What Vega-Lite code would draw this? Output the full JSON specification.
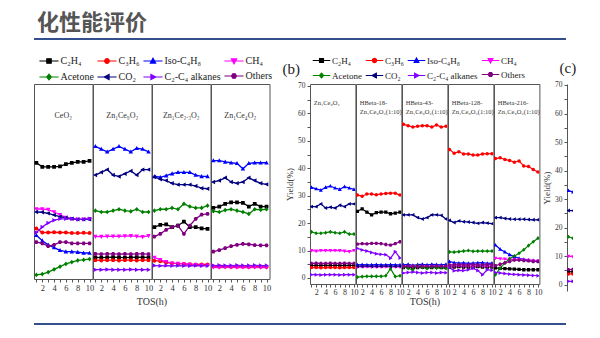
{
"$schema": "https://vega.github.io/schema/vega-lite/v6.json",
"padding": {"left": 33, "top": 12, "right": 0, "bottom": 0},
"background": "white",
"config": {
 "font": "Liberation Serif",
 "view": {"stroke": "#555555", "strokeWidth": 1},
 "axis": {"labelFont": "Liberation Serif", "titleFont": "Liberation Serif", "labelColor": "#333333", "titleColor": "#333333", "tickColor": "#555555", "domainColor": "#555555", "grid": false, "labelFontSize": 8, "titleFontWeight": "normal", "tickSize": 3},
 "legend": {"gridAlign": "none"},
 "title": {"font": "Liberation Serif", "fontWeight": "normal", "color": "#222222"}
},
"datasets": {
"a": [
{"c":"a1","s":"C₂H₄","t":1,"v":42.5},{"c":"a1","s":"C₂H₄","t":2,"v":41},{"c":"a1","s":"C₂H₄","t":3,"v":41},{"c":"a1","s":"C₂H₄","t":4,"v":41},{"c":"a1","s":"C₂H₄","t":5,"v":41.2},{"c":"a1","s":"C₂H₄","t":6,"v":42},{"c":"a1","s":"C₂H₄","t":7,"v":42.5},{"c":"a1","s":"C₂H₄","t":8,"v":42.8},{"c":"a1","s":"C₂H₄","t":9,"v":42.8},{"c":"a1","s":"C₂H₄","t":10,"v":43.2},
{"c":"a1","s":"C₃H₆","t":1,"v":18.5},{"c":"a1","s":"C₃H₆","t":2,"v":17},{"c":"a1","s":"C₃H₆","t":3,"v":17},{"c":"a1","s":"C₃H₆","t":4,"v":17.1},{"c":"a1","s":"C₃H₆","t":5,"v":17},{"c":"a1","s":"C₃H₆","t":6,"v":17},{"c":"a1","s":"C₃H₆","t":7,"v":16.8},{"c":"a1","s":"C₃H₆","t":8,"v":16.8},{"c":"a1","s":"C₃H₆","t":9,"v":16.9},{"c":"a1","s":"C₃H₆","t":10,"v":16.8},
{"c":"a1","s":"Iso-C₄H₈","t":1,"v":16},{"c":"a1","s":"Iso-C₄H₈","t":2,"v":14},{"c":"a1","s":"Iso-C₄H₈","t":3,"v":12.5},{"c":"a1","s":"Iso-C₄H₈","t":4,"v":11.5},{"c":"a1","s":"Iso-C₄H₈","t":5,"v":10.5},{"c":"a1","s":"Iso-C₄H₈","t":6,"v":10},{"c":"a1","s":"Iso-C₄H₈","t":7,"v":10},{"c":"a1","s":"Iso-C₄H₈","t":8,"v":9.8},{"c":"a1","s":"Iso-C₄H₈","t":9,"v":9.5},{"c":"a1","s":"Iso-C₄H₈","t":10,"v":9.5},
{"c":"a1","s":"CH₄","t":1,"v":25.6},{"c":"a1","s":"CH₄","t":2,"v":25.6},{"c":"a1","s":"CH₄","t":3,"v":25.4},{"c":"a1","s":"CH₄","t":4,"v":24.5},{"c":"a1","s":"CH₄","t":5,"v":23.5},{"c":"a1","s":"CH₄","t":6,"v":22.5},{"c":"a1","s":"CH₄","t":7,"v":22},{"c":"a1","s":"CH₄","t":8,"v":21.8},{"c":"a1","s":"CH₄","t":9,"v":21.8},{"c":"a1","s":"CH₄","t":10,"v":22},
{"c":"a1","s":"Acetone","t":1,"v":1.5},{"c":"a1","s":"Acetone","t":2,"v":1.8},{"c":"a1","s":"Acetone","t":3,"v":2.5},{"c":"a1","s":"Acetone","t":4,"v":3.5},{"c":"a1","s":"Acetone","t":5,"v":4.5},{"c":"a1","s":"Acetone","t":6,"v":5.5},{"c":"a1","s":"Acetone","t":7,"v":6.2},{"c":"a1","s":"Acetone","t":8,"v":6.8},{"c":"a1","s":"Acetone","t":9,"v":7},{"c":"a1","s":"Acetone","t":10,"v":7.3},
{"c":"a1","s":"CO₂","t":1,"v":24.5},{"c":"a1","s":"CO₂","t":2,"v":24.4},{"c":"a1","s":"CO₂","t":3,"v":24},{"c":"a1","s":"CO₂","t":4,"v":23.4},{"c":"a1","s":"CO₂","t":5,"v":22.8},{"c":"a1","s":"CO₂","t":6,"v":22.4},{"c":"a1","s":"CO₂","t":7,"v":22},{"c":"a1","s":"CO₂","t":8,"v":21.8},{"c":"a1","s":"CO₂","t":9,"v":21.8},{"c":"a1","s":"CO₂","t":10,"v":21.8},
{"c":"a1","s":"C₂-C₄ alkanes","t":1,"v":17},{"c":"a1","s":"C₂-C₄ alkanes","t":2,"v":19},{"c":"a1","s":"C₂-C₄ alkanes","t":3,"v":20.5},{"c":"a1","s":"C₂-C₄ alkanes","t":4,"v":21.5},{"c":"a1","s":"C₂-C₄ alkanes","t":5,"v":22},{"c":"a1","s":"C₂-C₄ alkanes","t":6,"v":22},{"c":"a1","s":"C₂-C₄ alkanes","t":7,"v":22},{"c":"a1","s":"C₂-C₄ alkanes","t":8,"v":21.8},{"c":"a1","s":"C₂-C₄ alkanes","t":9,"v":21.8},{"c":"a1","s":"C₂-C₄ alkanes","t":10,"v":22},
{"c":"a1","s":"Others","t":1,"v":13.5},{"c":"a1","s":"Others","t":2,"v":13},{"c":"a1","s":"Others","t":3,"v":12},{"c":"a1","s":"Others","t":4,"v":12.5},{"c":"a1","s":"Others","t":5,"v":13.5},{"c":"a1","s":"Others","t":6,"v":13.5},{"c":"a1","s":"Others","t":7,"v":13},{"c":"a1","s":"Others","t":8,"v":13},{"c":"a1","s":"Others","t":9,"v":13},{"c":"a1","s":"Others","t":10,"v":13},
{"c":"a2","s":"C₂H₄","t":1,"v":7.9},{"c":"a2","s":"C₂H₄","t":2,"v":7.8},{"c":"a2","s":"C₂H₄","t":3,"v":7.9},{"c":"a2","s":"C₂H₄","t":4,"v":8},{"c":"a2","s":"C₂H₄","t":5,"v":7.9},{"c":"a2","s":"C₂H₄","t":6,"v":7.8},{"c":"a2","s":"C₂H₄","t":7,"v":7.9},{"c":"a2","s":"C₂H₄","t":8,"v":8},{"c":"a2","s":"C₂H₄","t":9,"v":7.9},{"c":"a2","s":"C₂H₄","t":10,"v":7.9},
{"c":"a2","s":"C₃H₆","t":1,"v":6.9},{"c":"a2","s":"C₃H₆","t":2,"v":6.8},{"c":"a2","s":"C₃H₆","t":3,"v":6.9},{"c":"a2","s":"C₃H₆","t":4,"v":6.9},{"c":"a2","s":"C₃H₆","t":5,"v":6.8},{"c":"a2","s":"C₃H₆","t":6,"v":6.9},{"c":"a2","s":"C₃H₆","t":7,"v":6.9},{"c":"a2","s":"C₃H₆","t":8,"v":6.8},{"c":"a2","s":"C₃H₆","t":9,"v":6.9},{"c":"a2","s":"C₃H₆","t":10,"v":6.9},
{"c":"a2","s":"Iso-C₄H₈","t":1,"v":48.5},{"c":"a2","s":"Iso-C₄H₈","t":2,"v":47.5},{"c":"a2","s":"Iso-C₄H₈","t":3,"v":46.5},{"c":"a2","s":"Iso-C₄H₈","t":4,"v":47.5},{"c":"a2","s":"Iso-C₄H₈","t":5,"v":48.5},{"c":"a2","s":"Iso-C₄H₈","t":6,"v":47.5},{"c":"a2","s":"Iso-C₄H₈","t":7,"v":46.5},{"c":"a2","s":"Iso-C₄H₈","t":8,"v":47.8},{"c":"a2","s":"Iso-C₄H₈","t":9,"v":47.5},{"c":"a2","s":"Iso-C₄H₈","t":10,"v":46.5},
{"c":"a2","s":"CH₄","t":1,"v":15.5},{"c":"a2","s":"CH₄","t":2,"v":15.5},{"c":"a2","s":"CH₄","t":3,"v":15.6},{"c":"a2","s":"CH₄","t":4,"v":15.6},{"c":"a2","s":"CH₄","t":5,"v":15.6},{"c":"a2","s":"CH₄","t":6,"v":15.7},{"c":"a2","s":"CH₄","t":7,"v":15.8},{"c":"a2","s":"CH₄","t":8,"v":15.6},{"c":"a2","s":"CH₄","t":9,"v":15.4},{"c":"a2","s":"CH₄","t":10,"v":15.8},
{"c":"a2","s":"Acetone","t":1,"v":25},{"c":"a2","s":"Acetone","t":2,"v":24.5},{"c":"a2","s":"Acetone","t":3,"v":24.5},{"c":"a2","s":"Acetone","t":4,"v":25},{"c":"a2","s":"Acetone","t":5,"v":25.5},{"c":"a2","s":"Acetone","t":6,"v":25},{"c":"a2","s":"Acetone","t":7,"v":24.7},{"c":"a2","s":"Acetone","t":8,"v":25.5},{"c":"a2","s":"Acetone","t":9,"v":24.5},{"c":"a2","s":"Acetone","t":10,"v":24.5},
{"c":"a2","s":"CO₂","t":1,"v":38},{"c":"a2","s":"CO₂","t":2,"v":39},{"c":"a2","s":"CO₂","t":3,"v":40},{"c":"a2","s":"CO₂","t":4,"v":38},{"c":"a2","s":"CO₂","t":5,"v":37.5},{"c":"a2","s":"CO₂","t":6,"v":38.5},{"c":"a2","s":"CO₂","t":7,"v":39.5},{"c":"a2","s":"CO₂","t":8,"v":38},{"c":"a2","s":"CO₂","t":9,"v":40},{"c":"a2","s":"CO₂","t":10,"v":40},
{"c":"a2","s":"C₂-C₄ alkanes","t":1,"v":3.4},{"c":"a2","s":"C₂-C₄ alkanes","t":2,"v":3.4},{"c":"a2","s":"C₂-C₄ alkanes","t":3,"v":3.5},{"c":"a2","s":"C₂-C₄ alkanes","t":4,"v":3.4},{"c":"a2","s":"C₂-C₄ alkanes","t":5,"v":3.4},{"c":"a2","s":"C₂-C₄ alkanes","t":6,"v":3.4},{"c":"a2","s":"C₂-C₄ alkanes","t":7,"v":3.5},{"c":"a2","s":"C₂-C₄ alkanes","t":8,"v":3.4},{"c":"a2","s":"C₂-C₄ alkanes","t":9,"v":3.4},{"c":"a2","s":"C₂-C₄ alkanes","t":10,"v":3.4},
{"c":"a2","s":"Others","t":1,"v":9.2},{"c":"a2","s":"Others","t":2,"v":9.1},{"c":"a2","s":"Others","t":3,"v":9.2},{"c":"a2","s":"Others","t":4,"v":9.2},{"c":"a2","s":"Others","t":5,"v":9.1},{"c":"a2","s":"Others","t":6,"v":9.2},{"c":"a2","s":"Others","t":7,"v":9.1},{"c":"a2","s":"Others","t":8,"v":9.2},{"c":"a2","s":"Others","t":9,"v":9.2},{"c":"a2","s":"Others","t":10,"v":9.1},
{"c":"a3","s":"C₂H₄","t":1,"v":19},{"c":"a3","s":"C₂H₄","t":2,"v":19.8},{"c":"a3","s":"C₂H₄","t":3,"v":20},{"c":"a3","s":"C₂H₄","t":4,"v":19},{"c":"a3","s":"C₂H₄","t":5,"v":19.5},{"c":"a3","s":"C₂H₄","t":6,"v":21},{"c":"a3","s":"C₂H₄","t":7,"v":19},{"c":"a3","s":"C₂H₄","t":8,"v":19},{"c":"a3","s":"C₂H₄","t":9,"v":18.5},{"c":"a3","s":"C₂H₄","t":10,"v":18.3},
{"c":"a3","s":"C₃H₆","t":1,"v":6.7},{"c":"a3","s":"C₃H₆","t":2,"v":6.5},{"c":"a3","s":"C₃H₆","t":3,"v":6},{"c":"a3","s":"C₃H₆","t":4,"v":5.8},{"c":"a3","s":"C₃H₆","t":5,"v":5.6},{"c":"a3","s":"C₃H₆","t":6,"v":5.5},{"c":"a3","s":"C₃H₆","t":7,"v":5.4},{"c":"a3","s":"C₃H₆","t":8,"v":5.3},{"c":"a3","s":"C₃H₆","t":9,"v":5.3},{"c":"a3","s":"C₃H₆","t":10,"v":5.3},
{"c":"a3","s":"Iso-C₄H₈","t":1,"v":37.5},{"c":"a3","s":"Iso-C₄H₈","t":2,"v":37.2},{"c":"a3","s":"Iso-C₄H₈","t":3,"v":37.8},{"c":"a3","s":"Iso-C₄H₈","t":4,"v":38.5},{"c":"a3","s":"Iso-C₄H₈","t":5,"v":39},{"c":"a3","s":"Iso-C₄H₈","t":6,"v":39},{"c":"a3","s":"Iso-C₄H₈","t":7,"v":39},{"c":"a3","s":"Iso-C₄H₈","t":8,"v":38},{"c":"a3","s":"Iso-C₄H₈","t":9,"v":37.5},{"c":"a3","s":"Iso-C₄H₈","t":10,"v":37.5},
{"c":"a3","s":"CH₄","t":1,"v":7.9},{"c":"a3","s":"CH₄","t":2,"v":7},{"c":"a3","s":"CH₄","t":3,"v":6.3},{"c":"a3","s":"CH₄","t":4,"v":5.8},{"c":"a3","s":"CH₄","t":5,"v":5.7},{"c":"a3","s":"CH₄","t":6,"v":5.5},{"c":"a3","s":"CH₄","t":7,"v":5.3},{"c":"a3","s":"CH₄","t":8,"v":5.2},{"c":"a3","s":"CH₄","t":9,"v":5},{"c":"a3","s":"CH₄","t":10,"v":5},
{"c":"a3","s":"Acetone","t":1,"v":25},{"c":"a3","s":"Acetone","t":2,"v":25.5},{"c":"a3","s":"Acetone","t":3,"v":25.5},{"c":"a3","s":"Acetone","t":4,"v":26},{"c":"a3","s":"Acetone","t":5,"v":25.5},{"c":"a3","s":"Acetone","t":6,"v":27.5},{"c":"a3","s":"Acetone","t":7,"v":26.5},{"c":"a3","s":"Acetone","t":8,"v":26},{"c":"a3","s":"Acetone","t":9,"v":26},{"c":"a3","s":"Acetone","t":10,"v":26.8},
{"c":"a3","s":"CO₂","t":1,"v":37.3},{"c":"a3","s":"CO₂","t":2,"v":36.5},{"c":"a3","s":"CO₂","t":3,"v":36},{"c":"a3","s":"CO₂","t":4,"v":35},{"c":"a3","s":"CO₂","t":5,"v":34.5},{"c":"a3","s":"CO₂","t":6,"v":34.5},{"c":"a3","s":"CO₂","t":7,"v":34.5},{"c":"a3","s":"CO₂","t":8,"v":34},{"c":"a3","s":"CO₂","t":9,"v":33.2},{"c":"a3","s":"CO₂","t":10,"v":33},
{"c":"a3","s":"C₂-C₄ alkanes","t":1,"v":4.9},{"c":"a3","s":"C₂-C₄ alkanes","t":2,"v":4.8},{"c":"a3","s":"C₂-C₄ alkanes","t":3,"v":4.9},{"c":"a3","s":"C₂-C₄ alkanes","t":4,"v":4.8},{"c":"a3","s":"C₂-C₄ alkanes","t":5,"v":4.9},{"c":"a3","s":"C₂-C₄ alkanes","t":6,"v":4.8},{"c":"a3","s":"C₂-C₄ alkanes","t":7,"v":4.8},{"c":"a3","s":"C₂-C₄ alkanes","t":8,"v":4.9},{"c":"a3","s":"C₂-C₄ alkanes","t":9,"v":4.8},{"c":"a3","s":"C₂-C₄ alkanes","t":10,"v":4.8},
{"c":"a3","s":"Others","t":1,"v":15.5},{"c":"a3","s":"Others","t":2,"v":16.5},{"c":"a3","s":"Others","t":3,"v":18},{"c":"a3","s":"Others","t":4,"v":19},{"c":"a3","s":"Others","t":5,"v":19.5},{"c":"a3","s":"Others","t":6,"v":16.5},{"c":"a3","s":"Others","t":7,"v":19.5},{"c":"a3","s":"Others","t":8,"v":22},{"c":"a3","s":"Others","t":9,"v":23.5},{"c":"a3","s":"Others","t":10,"v":23.8},
{"c":"a4","s":"C₂H₄","t":1,"v":26},{"c":"a4","s":"C₂H₄","t":2,"v":26.5},{"c":"a4","s":"C₂H₄","t":3,"v":27.5},{"c":"a4","s":"C₂H₄","t":4,"v":28},{"c":"a4","s":"C₂H₄","t":5,"v":28},{"c":"a4","s":"C₂H₄","t":6,"v":27.8},{"c":"a4","s":"C₂H₄","t":7,"v":26.5},{"c":"a4","s":"C₂H₄","t":8,"v":27.5},{"c":"a4","s":"C₂H₄","t":9,"v":26.5},{"c":"a4","s":"C₂H₄","t":10,"v":26.5},
{"c":"a4","s":"C₃H₆","t":1,"v":4.6},{"c":"a4","s":"C₃H₆","t":2,"v":4.5},{"c":"a4","s":"C₃H₆","t":3,"v":4.5},{"c":"a4","s":"C₃H₆","t":4,"v":4.4},{"c":"a4","s":"C₃H₆","t":5,"v":4.5},{"c":"a4","s":"C₃H₆","t":6,"v":4.5},{"c":"a4","s":"C₃H₆","t":7,"v":4.4},{"c":"a4","s":"C₃H₆","t":8,"v":4.5},{"c":"a4","s":"C₃H₆","t":9,"v":4.5},{"c":"a4","s":"C₃H₆","t":10,"v":4.4},
{"c":"a4","s":"Iso-C₄H₈","t":1,"v":43.3},{"c":"a4","s":"Iso-C₄H₈","t":2,"v":43.3},{"c":"a4","s":"Iso-C₄H₈","t":3,"v":42.8},{"c":"a4","s":"Iso-C₄H₈","t":4,"v":42.5},{"c":"a4","s":"Iso-C₄H₈","t":5,"v":42.3},{"c":"a4","s":"Iso-C₄H₈","t":6,"v":40.3},{"c":"a4","s":"Iso-C₄H₈","t":7,"v":42.3},{"c":"a4","s":"Iso-C₄H₈","t":8,"v":42.5},{"c":"a4","s":"Iso-C₄H₈","t":9,"v":42.5},{"c":"a4","s":"Iso-C₄H₈","t":10,"v":42.5},
{"c":"a4","s":"CH₄","t":1,"v":4.3},{"c":"a4","s":"CH₄","t":2,"v":4.2},{"c":"a4","s":"CH₄","t":3,"v":4.3},{"c":"a4","s":"CH₄","t":4,"v":4.3},{"c":"a4","s":"CH₄","t":5,"v":4.2},{"c":"a4","s":"CH₄","t":6,"v":4.3},{"c":"a4","s":"CH₄","t":7,"v":4.2},{"c":"a4","s":"CH₄","t":8,"v":4.3},{"c":"a4","s":"CH₄","t":9,"v":4.2},{"c":"a4","s":"CH₄","t":10,"v":4.2},
{"c":"a4","s":"Acetone","t":1,"v":24.8},{"c":"a4","s":"Acetone","t":2,"v":24.5},{"c":"a4","s":"Acetone","t":3,"v":25.2},{"c":"a4","s":"Acetone","t":4,"v":25.5},{"c":"a4","s":"Acetone","t":5,"v":25},{"c":"a4","s":"Acetone","t":6,"v":24.5},{"c":"a4","s":"Acetone","t":7,"v":23.8},{"c":"a4","s":"Acetone","t":8,"v":25.5},{"c":"a4","s":"Acetone","t":9,"v":25.3},{"c":"a4","s":"Acetone","t":10,"v":25.5},
{"c":"a4","s":"CO₂","t":1,"v":35.5},{"c":"a4","s":"CO₂","t":2,"v":36},{"c":"a4","s":"CO₂","t":3,"v":37},{"c":"a4","s":"CO₂","t":4,"v":35.5},{"c":"a4","s":"CO₂","t":5,"v":35},{"c":"a4","s":"CO₂","t":6,"v":35.5},{"c":"a4","s":"CO₂","t":7,"v":37},{"c":"a4","s":"CO₂","t":8,"v":36},{"c":"a4","s":"CO₂","t":9,"v":35},{"c":"a4","s":"CO₂","t":10,"v":34.6},
{"c":"a4","s":"C₂-C₄ alkanes","t":1,"v":4.9},{"c":"a4","s":"C₂-C₄ alkanes","t":2,"v":5},{"c":"a4","s":"C₂-C₄ alkanes","t":3,"v":4.9},{"c":"a4","s":"C₂-C₄ alkanes","t":4,"v":4.9},{"c":"a4","s":"C₂-C₄ alkanes","t":5,"v":5},{"c":"a4","s":"C₂-C₄ alkanes","t":6,"v":4.9},{"c":"a4","s":"C₂-C₄ alkanes","t":7,"v":4.9},{"c":"a4","s":"C₂-C₄ alkanes","t":8,"v":5},{"c":"a4","s":"C₂-C₄ alkanes","t":9,"v":4.9},{"c":"a4","s":"C₂-C₄ alkanes","t":10,"v":4.9},
{"c":"a4","s":"Others","t":1,"v":10},{"c":"a4","s":"Others","t":2,"v":10.6},{"c":"a4","s":"Others","t":3,"v":11.3},{"c":"a4","s":"Others","t":4,"v":12},{"c":"a4","s":"Others","t":5,"v":12.5},{"c":"a4","s":"Others","t":6,"v":12.8},{"c":"a4","s":"Others","t":7,"v":12.7},{"c":"a4","s":"Others","t":8,"v":12.4},{"c":"a4","s":"Others","t":9,"v":12.3},{"c":"a4","s":"Others","t":10,"v":12.3}
],
"b": [
{"c":"b1","s":"C₂H₄","t":1,"v":4.6},{"c":"b1","s":"C₂H₄","t":2,"v":4.5},{"c":"b1","s":"C₂H₄","t":3,"v":4.6},{"c":"b1","s":"C₂H₄","t":4,"v":4.6},{"c":"b1","s":"C₂H₄","t":5,"v":4.5},{"c":"b1","s":"C₂H₄","t":6,"v":4.6},{"c":"b1","s":"C₂H₄","t":7,"v":4.6},{"c":"b1","s":"C₂H₄","t":8,"v":4.5},{"c":"b1","s":"C₂H₄","t":9,"v":4.6},{"c":"b1","s":"C₂H₄","t":10,"v":4.6},
{"c":"b1","s":"C₃H₆","t":1,"v":3.8},{"c":"b1","s":"C₃H₆","t":2,"v":3.8},{"c":"b1","s":"C₃H₆","t":3,"v":3.7},{"c":"b1","s":"C₃H₆","t":4,"v":3.8},{"c":"b1","s":"C₃H₆","t":5,"v":3.8},{"c":"b1","s":"C₃H₆","t":6,"v":3.8},{"c":"b1","s":"C₃H₆","t":7,"v":3.7},{"c":"b1","s":"C₃H₆","t":8,"v":3.8},{"c":"b1","s":"C₃H₆","t":9,"v":3.8},{"c":"b1","s":"C₃H₆","t":10,"v":3.8},
{"c":"b1","s":"Iso-C₄H₈","t":1,"v":33},{"c":"b1","s":"Iso-C₄H₈","t":2,"v":32.5},{"c":"b1","s":"Iso-C₄H₈","t":3,"v":32},{"c":"b1","s":"Iso-C₄H₈","t":4,"v":33},{"c":"b1","s":"Iso-C₄H₈","t":5,"v":33.5},{"c":"b1","s":"Iso-C₄H₈","t":6,"v":32.8},{"c":"b1","s":"Iso-C₄H₈","t":7,"v":32.3},{"c":"b1","s":"Iso-C₄H₈","t":8,"v":33.3},{"c":"b1","s":"Iso-C₄H₈","t":9,"v":32.8},{"c":"b1","s":"Iso-C₄H₈","t":10,"v":32.3},
{"c":"b1","s":"CH₄","t":1,"v":10},{"c":"b1","s":"CH₄","t":2,"v":9.8},{"c":"b1","s":"CH₄","t":3,"v":10},{"c":"b1","s":"CH₄","t":4,"v":10},{"c":"b1","s":"CH₄","t":5,"v":10},{"c":"b1","s":"CH₄","t":6,"v":10},{"c":"b1","s":"CH₄","t":7,"v":10},{"c":"b1","s":"CH₄","t":8,"v":9.8},{"c":"b1","s":"CH₄","t":9,"v":9.6},{"c":"b1","s":"CH₄","t":10,"v":10},
{"c":"b1","s":"Acetone","t":1,"v":16.8},{"c":"b1","s":"Acetone","t":2,"v":16.3},{"c":"b1","s":"Acetone","t":3,"v":16.3},{"c":"b1","s":"Acetone","t":4,"v":16.5},{"c":"b1","s":"Acetone","t":5,"v":16.8},{"c":"b1","s":"Acetone","t":6,"v":16.5},{"c":"b1","s":"Acetone","t":7,"v":16.3},{"c":"b1","s":"Acetone","t":8,"v":16.8},{"c":"b1","s":"Acetone","t":9,"v":16},{"c":"b1","s":"Acetone","t":10,"v":16},
{"c":"b1","s":"CO₂","t":1,"v":26},{"c":"b1","s":"CO₂","t":2,"v":26},{"c":"b1","s":"CO₂","t":3,"v":27},{"c":"b1","s":"CO₂","t":4,"v":25.5},{"c":"b1","s":"CO₂","t":5,"v":25.8},{"c":"b1","s":"CO₂","t":6,"v":25.5},{"c":"b1","s":"CO₂","t":7,"v":26.5},{"c":"b1","s":"CO₂","t":8,"v":26},{"c":"b1","s":"CO₂","t":9,"v":27},{"c":"b1","s":"CO₂","t":10,"v":27},
{"c":"b1","s":"C₂-C₄ alkanes","t":1,"v":1.2},{"c":"b1","s":"C₂-C₄ alkanes","t":2,"v":1.2},{"c":"b1","s":"C₂-C₄ alkanes","t":3,"v":1.1},{"c":"b1","s":"C₂-C₄ alkanes","t":4,"v":1.2},{"c":"b1","s":"C₂-C₄ alkanes","t":5,"v":1.2},{"c":"b1","s":"C₂-C₄ alkanes","t":6,"v":1.2},{"c":"b1","s":"C₂-C₄ alkanes","t":7,"v":1.1},{"c":"b1","s":"C₂-C₄ alkanes","t":8,"v":1.2},{"c":"b1","s":"C₂-C₄ alkanes","t":9,"v":1.2},{"c":"b1","s":"C₂-C₄ alkanes","t":10,"v":1.2},
{"c":"b1","s":"Others","t":1,"v":5.3},{"c":"b1","s":"Others","t":2,"v":5.4},{"c":"b1","s":"Others","t":3,"v":5.3},{"c":"b1","s":"Others","t":4,"v":5.3},{"c":"b1","s":"Others","t":5,"v":5.4},{"c":"b1","s":"Others","t":6,"v":5.3},{"c":"b1","s":"Others","t":7,"v":5.3},{"c":"b1","s":"Others","t":8,"v":5.4},{"c":"b1","s":"Others","t":9,"v":5.3},{"c":"b1","s":"Others","t":10,"v":5.3},
{"c":"b2","s":"C₂H₄","t":1,"v":24.3},{"c":"b2","s":"C₂H₄","t":2,"v":25.2},{"c":"b2","s":"C₂H₄","t":3,"v":24},{"c":"b2","s":"C₂H₄","t":4,"v":23},{"c":"b2","s":"C₂H₄","t":5,"v":23.8},{"c":"b2","s":"C₂H₄","t":6,"v":24},{"c":"b2","s":"C₂H₄","t":7,"v":24},{"c":"b2","s":"C₂H₄","t":8,"v":23.4},{"c":"b2","s":"C₂H₄","t":9,"v":23.6},{"c":"b2","s":"C₂H₄","t":10,"v":24},
{"c":"b2","s":"C₃H₆","t":1,"v":30.2},{"c":"b2","s":"C₃H₆","t":2,"v":29.8},{"c":"b2","s":"C₃H₆","t":3,"v":30.6},{"c":"b2","s":"C₃H₆","t":4,"v":30.6},{"c":"b2","s":"C₃H₆","t":5,"v":30.3},{"c":"b2","s":"C₃H₆","t":6,"v":30.6},{"c":"b2","s":"C₃H₆","t":7,"v":30.8},{"c":"b2","s":"C₃H₆","t":8,"v":30.9},{"c":"b2","s":"C₃H₆","t":9,"v":30.9},{"c":"b2","s":"C₃H₆","t":10,"v":30.2},
{"c":"b2","s":"Iso-C₄H₈","t":1,"v":4.8},{"c":"b2","s":"Iso-C₄H₈","t":2,"v":4.9},{"c":"b2","s":"Iso-C₄H₈","t":3,"v":4.8},{"c":"b2","s":"Iso-C₄H₈","t":4,"v":4.8},{"c":"b2","s":"Iso-C₄H₈","t":5,"v":4.9},{"c":"b2","s":"Iso-C₄H₈","t":6,"v":4.8},{"c":"b2","s":"Iso-C₄H₈","t":7,"v":4.8},{"c":"b2","s":"Iso-C₄H₈","t":8,"v":4.9},{"c":"b2","s":"Iso-C₄H₈","t":9,"v":4.8},{"c":"b2","s":"Iso-C₄H₈","t":10,"v":4.8},
{"c":"b2","s":"CH₄","t":1,"v":4},{"c":"b2","s":"CH₄","t":2,"v":4},{"c":"b2","s":"CH₄","t":3,"v":4.1},{"c":"b2","s":"CH₄","t":4,"v":4},{"c":"b2","s":"CH₄","t":5,"v":4},{"c":"b2","s":"CH₄","t":6,"v":4},{"c":"b2","s":"CH₄","t":7,"v":4.1},{"c":"b2","s":"CH₄","t":8,"v":4},{"c":"b2","s":"CH₄","t":9,"v":4},{"c":"b2","s":"CH₄","t":10,"v":4},
{"c":"b2","s":"Acetone","t":1,"v":0.3},{"c":"b2","s":"Acetone","t":2,"v":0.5},{"c":"b2","s":"Acetone","t":3,"v":0.6},{"c":"b2","s":"Acetone","t":4,"v":0.6},{"c":"b2","s":"Acetone","t":5,"v":0.6},{"c":"b2","s":"Acetone","t":6,"v":0.6},{"c":"b2","s":"Acetone","t":7,"v":0.8},{"c":"b2","s":"Acetone","t":8,"v":3.4},{"c":"b2","s":"Acetone","t":9,"v":0.5},{"c":"b2","s":"Acetone","t":10,"v":0.8},
{"c":"b2","s":"CO₂","t":1,"v":4.3},{"c":"b2","s":"CO₂","t":2,"v":4.3},{"c":"b2","s":"CO₂","t":3,"v":4.4},{"c":"b2","s":"CO₂","t":4,"v":4.3},{"c":"b2","s":"CO₂","t":5,"v":4.3},{"c":"b2","s":"CO₂","t":6,"v":4.3},{"c":"b2","s":"CO₂","t":7,"v":4.4},{"c":"b2","s":"CO₂","t":8,"v":4.3},{"c":"b2","s":"CO₂","t":9,"v":4.3},{"c":"b2","s":"CO₂","t":10,"v":4.3},
{"c":"b2","s":"C₂-C₄ alkanes","t":1,"v":10.8},{"c":"b2","s":"C₂-C₄ alkanes","t":2,"v":10.2},{"c":"b2","s":"C₂-C₄ alkanes","t":3,"v":9.8},{"c":"b2","s":"C₂-C₄ alkanes","t":4,"v":9.3},{"c":"b2","s":"C₂-C₄ alkanes","t":5,"v":8.8},{"c":"b2","s":"C₂-C₄ alkanes","t":6,"v":8.6},{"c":"b2","s":"C₂-C₄ alkanes","t":7,"v":8.5},{"c":"b2","s":"C₂-C₄ alkanes","t":8,"v":7.2},{"c":"b2","s":"C₂-C₄ alkanes","t":9,"v":9.6},{"c":"b2","s":"C₂-C₄ alkanes","t":10,"v":7.3},
{"c":"b2","s":"Others","t":1,"v":12.3},{"c":"b2","s":"Others","t":2,"v":12.5},{"c":"b2","s":"Others","t":3,"v":12.4},{"c":"b2","s":"Others","t":4,"v":12.6},{"c":"b2","s":"Others","t":5,"v":12.6},{"c":"b2","s":"Others","t":6,"v":12.5},{"c":"b2","s":"Others","t":7,"v":12.2},{"c":"b2","s":"Others","t":8,"v":12},{"c":"b2","s":"Others","t":9,"v":12.5},{"c":"b2","s":"Others","t":10,"v":13.2},
{"c":"b3","s":"C₂H₄","t":1,"v":3.8},{"c":"b3","s":"C₂H₄","t":2,"v":3.9},{"c":"b3","s":"C₂H₄","t":3,"v":3.8},{"c":"b3","s":"C₂H₄","t":4,"v":3.8},{"c":"b3","s":"C₂H₄","t":5,"v":3.9},{"c":"b3","s":"C₂H₄","t":6,"v":3.8},{"c":"b3","s":"C₂H₄","t":7,"v":3.8},{"c":"b3","s":"C₂H₄","t":8,"v":3.9},{"c":"b3","s":"C₂H₄","t":9,"v":3.8},{"c":"b3","s":"C₂H₄","t":10,"v":3.8},
{"c":"b3","s":"C₃H₆","t":1,"v":56},{"c":"b3","s":"C₃H₆","t":2,"v":55.5},{"c":"b3","s":"C₃H₆","t":3,"v":55},{"c":"b3","s":"C₃H₆","t":4,"v":55.3},{"c":"b3","s":"C₃H₆","t":5,"v":55.5},{"c":"b3","s":"C₃H₆","t":6,"v":55.5},{"c":"b3","s":"C₃H₆","t":7,"v":55},{"c":"b3","s":"C₃H₆","t":8,"v":55.8},{"c":"b3","s":"C₃H₆","t":9,"v":55},{"c":"b3","s":"C₃H₆","t":10,"v":55.3},
{"c":"b3","s":"Iso-C₄H₈","t":1,"v":4.8},{"c":"b3","s":"Iso-C₄H₈","t":2,"v":5},{"c":"b3","s":"Iso-C₄H₈","t":3,"v":4.6},{"c":"b3","s":"Iso-C₄H₈","t":4,"v":4.9},{"c":"b3","s":"Iso-C₄H₈","t":5,"v":5},{"c":"b3","s":"Iso-C₄H₈","t":6,"v":4.8},{"c":"b3","s":"Iso-C₄H₈","t":7,"v":5},{"c":"b3","s":"Iso-C₄H₈","t":8,"v":4.9},{"c":"b3","s":"Iso-C₄H₈","t":9,"v":4.8},{"c":"b3","s":"Iso-C₄H₈","t":10,"v":5},
{"c":"b3","s":"CH₄","t":1,"v":4},{"c":"b3","s":"CH₄","t":2,"v":4},{"c":"b3","s":"CH₄","t":3,"v":4.1},{"c":"b3","s":"CH₄","t":4,"v":4},{"c":"b3","s":"CH₄","t":5,"v":4},{"c":"b3","s":"CH₄","t":6,"v":4},{"c":"b3","s":"CH₄","t":7,"v":4.1},{"c":"b3","s":"CH₄","t":8,"v":4},{"c":"b3","s":"CH₄","t":9,"v":4},{"c":"b3","s":"CH₄","t":10,"v":4},
{"c":"b3","s":"Acetone","t":1,"v":4.2},{"c":"b3","s":"Acetone","t":2,"v":3.5},{"c":"b3","s":"Acetone","t":3,"v":3},{"c":"b3","s":"Acetone","t":4,"v":4.5},{"c":"b3","s":"Acetone","t":5,"v":3.8},{"c":"b3","s":"Acetone","t":6,"v":3.5},{"c":"b3","s":"Acetone","t":7,"v":4},{"c":"b3","s":"Acetone","t":8,"v":3.6},{"c":"b3","s":"Acetone","t":9,"v":3.8},{"c":"b3","s":"Acetone","t":10,"v":3.5},
{"c":"b3","s":"CO₂","t":1,"v":23},{"c":"b3","s":"CO₂","t":2,"v":23},{"c":"b3","s":"CO₂","t":3,"v":23},{"c":"b3","s":"CO₂","t":4,"v":22},{"c":"b3","s":"CO₂","t":5,"v":21.5},{"c":"b3","s":"CO₂","t":6,"v":22},{"c":"b3","s":"CO₂","t":7,"v":23},{"c":"b3","s":"CO₂","t":8,"v":23},{"c":"b3","s":"CO₂","t":9,"v":22.8},{"c":"b3","s":"CO₂","t":10,"v":21.5},
{"c":"b3","s":"C₂-C₄ alkanes","t":1,"v":1.8},{"c":"b3","s":"C₂-C₄ alkanes","t":2,"v":2},{"c":"b3","s":"C₂-C₄ alkanes","t":3,"v":2.2},{"c":"b3","s":"C₂-C₄ alkanes","t":4,"v":2},{"c":"b3","s":"C₂-C₄ alkanes","t":5,"v":1.8},{"c":"b3","s":"C₂-C₄ alkanes","t":6,"v":2},{"c":"b3","s":"C₂-C₄ alkanes","t":7,"v":2},{"c":"b3","s":"C₂-C₄ alkanes","t":8,"v":1.8},{"c":"b3","s":"C₂-C₄ alkanes","t":9,"v":2},{"c":"b3","s":"C₂-C₄ alkanes","t":10,"v":1.9},
{"c":"b3","s":"Others","t":1,"v":4.3},{"c":"b3","s":"Others","t":2,"v":4.4},{"c":"b3","s":"Others","t":3,"v":4.3},{"c":"b3","s":"Others","t":4,"v":4.3},{"c":"b3","s":"Others","t":5,"v":4.4},{"c":"b3","s":"Others","t":6,"v":4.3},{"c":"b3","s":"Others","t":7,"v":4.3},{"c":"b3","s":"Others","t":8,"v":4.4},{"c":"b3","s":"Others","t":9,"v":4.3},{"c":"b3","s":"Others","t":10,"v":4.3},
{"c":"b4","s":"C₂H₄","t":1,"v":4},{"c":"b4","s":"C₂H₄","t":2,"v":4},{"c":"b4","s":"C₂H₄","t":3,"v":4.1},{"c":"b4","s":"C₂H₄","t":4,"v":4},{"c":"b4","s":"C₂H₄","t":5,"v":4},{"c":"b4","s":"C₂H₄","t":6,"v":4},{"c":"b4","s":"C₂H₄","t":7,"v":4.1},{"c":"b4","s":"C₂H₄","t":8,"v":4},{"c":"b4","s":"C₂H₄","t":9,"v":4},{"c":"b4","s":"C₂H₄","t":10,"v":4},
{"c":"b4","s":"C₃H₆","t":1,"v":46.8},{"c":"b4","s":"C₃H₆","t":2,"v":45.5},{"c":"b4","s":"C₃H₆","t":3,"v":46},{"c":"b4","s":"C₃H₆","t":4,"v":45.2},{"c":"b4","s":"C₃H₆","t":5,"v":45.2},{"c":"b4","s":"C₃H₆","t":6,"v":44.8},{"c":"b4","s":"C₃H₆","t":7,"v":44.8},{"c":"b4","s":"C₃H₆","t":8,"v":45.2},{"c":"b4","s":"C₃H₆","t":9,"v":45.3},{"c":"b4","s":"C₃H₆","t":10,"v":45.3},
{"c":"b4","s":"Iso-C₄H₈","t":1,"v":6},{"c":"b4","s":"Iso-C₄H₈","t":2,"v":5.6},{"c":"b4","s":"Iso-C₄H₈","t":3,"v":5.4},{"c":"b4","s":"Iso-C₄H₈","t":4,"v":5.5},{"c":"b4","s":"Iso-C₄H₈","t":5,"v":5.3},{"c":"b4","s":"Iso-C₄H₈","t":6,"v":5.4},{"c":"b4","s":"Iso-C₄H₈","t":7,"v":5.5},{"c":"b4","s":"Iso-C₄H₈","t":8,"v":5.6},{"c":"b4","s":"Iso-C₄H₈","t":9,"v":5.3},{"c":"b4","s":"Iso-C₄H₈","t":10,"v":5.4},
{"c":"b4","s":"CH₄","t":1,"v":4.3},{"c":"b4","s":"CH₄","t":2,"v":4.3},{"c":"b4","s":"CH₄","t":3,"v":4.4},{"c":"b4","s":"CH₄","t":4,"v":4.3},{"c":"b4","s":"CH₄","t":5,"v":4.3},{"c":"b4","s":"CH₄","t":6,"v":4.3},{"c":"b4","s":"CH₄","t":7,"v":4.4},{"c":"b4","s":"CH₄","t":8,"v":4.3},{"c":"b4","s":"CH₄","t":9,"v":4.3},{"c":"b4","s":"CH₄","t":10,"v":4.3},
{"c":"b4","s":"Acetone","t":1,"v":9.5},{"c":"b4","s":"Acetone","t":2,"v":9.4},{"c":"b4","s":"Acetone","t":3,"v":9.6},{"c":"b4","s":"Acetone","t":4,"v":9.8},{"c":"b4","s":"Acetone","t":5,"v":10},{"c":"b4","s":"Acetone","t":6,"v":9.7},{"c":"b4","s":"Acetone","t":7,"v":9.8},{"c":"b4","s":"Acetone","t":8,"v":9.8},{"c":"b4","s":"Acetone","t":9,"v":9.8},{"c":"b4","s":"Acetone","t":10,"v":9.8},
{"c":"b4","s":"CO₂","t":1,"v":21},{"c":"b4","s":"CO₂","t":2,"v":20.2},{"c":"b4","s":"CO₂","t":3,"v":20.8},{"c":"b4","s":"CO₂","t":4,"v":20.5},{"c":"b4","s":"CO₂","t":5,"v":20.4},{"c":"b4","s":"CO₂","t":6,"v":20.2},{"c":"b4","s":"CO₂","t":7,"v":19.9},{"c":"b4","s":"CO₂","t":8,"v":20.2},{"c":"b4","s":"CO₂","t":9,"v":20},{"c":"b4","s":"CO₂","t":10,"v":19.8},
{"c":"b4","s":"C₂-C₄ alkanes","t":1,"v":3.8},{"c":"b4","s":"C₂-C₄ alkanes","t":2,"v":2.6},{"c":"b4","s":"C₂-C₄ alkanes","t":3,"v":2.8},{"c":"b4","s":"C₂-C₄ alkanes","t":4,"v":2.7},{"c":"b4","s":"C₂-C₄ alkanes","t":5,"v":3},{"c":"b4","s":"C₂-C₄ alkanes","t":6,"v":3.5},{"c":"b4","s":"C₂-C₄ alkanes","t":7,"v":2.7},{"c":"b4","s":"C₂-C₄ alkanes","t":8,"v":1.2},{"c":"b4","s":"C₂-C₄ alkanes","t":9,"v":3},{"c":"b4","s":"C₂-C₄ alkanes","t":10,"v":2.8},
{"c":"b4","s":"Others","t":1,"v":4.8},{"c":"b4","s":"Others","t":2,"v":4.8},{"c":"b4","s":"Others","t":3,"v":4.9},{"c":"b4","s":"Others","t":4,"v":4.8},{"c":"b4","s":"Others","t":5,"v":4.8},{"c":"b4","s":"Others","t":6,"v":4.9},{"c":"b4","s":"Others","t":7,"v":4.8},{"c":"b4","s":"Others","t":8,"v":4.8},{"c":"b4","s":"Others","t":9,"v":4.9},{"c":"b4","s":"Others","t":10,"v":4.8},
{"c":"b5","s":"C₂H₄","t":1,"v":3.7},{"c":"b5","s":"C₂H₄","t":2,"v":3.5},{"c":"b5","s":"C₂H₄","t":3,"v":3.4},{"c":"b5","s":"C₂H₄","t":4,"v":3.3},{"c":"b5","s":"C₂H₄","t":5,"v":3.2},{"c":"b5","s":"C₂H₄","t":6,"v":3.1},{"c":"b5","s":"C₂H₄","t":7,"v":3},{"c":"b5","s":"C₂H₄","t":8,"v":3},{"c":"b5","s":"C₂H₄","t":9,"v":3},{"c":"b5","s":"C₂H₄","t":10,"v":3},
{"c":"b5","s":"C₃H₆","t":1,"v":43.5},{"c":"b5","s":"C₃H₆","t":2,"v":43.8},{"c":"b5","s":"C₃H₆","t":3,"v":43.2},{"c":"b5","s":"C₃H₆","t":4,"v":42.8},{"c":"b5","s":"C₃H₆","t":5,"v":42.2},{"c":"b5","s":"C₃H₆","t":6,"v":42.6},{"c":"b5","s":"C₃H₆","t":7,"v":40.8},{"c":"b5","s":"C₃H₆","t":8,"v":40.6},{"c":"b5","s":"C₃H₆","t":9,"v":39.5},{"c":"b5","s":"C₃H₆","t":10,"v":38.6},
{"c":"b5","s":"Iso-C₄H₈","t":1,"v":12},{"c":"b5","s":"Iso-C₄H₈","t":2,"v":10.5},{"c":"b5","s":"Iso-C₄H₈","t":3,"v":9.5},{"c":"b5","s":"Iso-C₄H₈","t":4,"v":8.5},{"c":"b5","s":"Iso-C₄H₈","t":5,"v":7.8},{"c":"b5","s":"Iso-C₄H₈","t":6,"v":7.2},{"c":"b5","s":"Iso-C₄H₈","t":7,"v":6.8},{"c":"b5","s":"Iso-C₄H₈","t":8,"v":6.5},{"c":"b5","s":"Iso-C₄H₈","t":9,"v":6.3},{"c":"b5","s":"Iso-C₄H₈","t":10,"v":6.2},
{"c":"b5","s":"CH₄","t":1,"v":7.2},{"c":"b5","s":"CH₄","t":2,"v":7},{"c":"b5","s":"CH₄","t":3,"v":6.9},{"c":"b5","s":"CH₄","t":4,"v":6.8},{"c":"b5","s":"CH₄","t":5,"v":6.7},{"c":"b5","s":"CH₄","t":6,"v":6.6},{"c":"b5","s":"CH₄","t":7,"v":6.5},{"c":"b5","s":"CH₄","t":8,"v":6.4},{"c":"b5","s":"CH₄","t":9,"v":6.3},{"c":"b5","s":"CH₄","t":10,"v":6.2},
{"c":"b5","s":"Acetone","t":1,"v":1.2},{"c":"b5","s":"Acetone","t":2,"v":3.5},{"c":"b5","s":"Acetone","t":3,"v":5.5},{"c":"b5","s":"Acetone","t":4,"v":7},{"c":"b5","s":"Acetone","t":5,"v":8},{"c":"b5","s":"Acetone","t":6,"v":9},{"c":"b5","s":"Acetone","t":7,"v":10.3},{"c":"b5","s":"Acetone","t":8,"v":11.8},{"c":"b5","s":"Acetone","t":9,"v":13.2},{"c":"b5","s":"Acetone","t":10,"v":14.5},
{"c":"b5","s":"CO₂","t":1,"v":22},{"c":"b5","s":"CO₂","t":2,"v":22},{"c":"b5","s":"CO₂","t":3,"v":21.7},{"c":"b5","s":"CO₂","t":4,"v":21.5},{"c":"b5","s":"CO₂","t":5,"v":21.4},{"c":"b5","s":"CO₂","t":6,"v":21.4},{"c":"b5","s":"CO₂","t":7,"v":21.4},{"c":"b5","s":"CO₂","t":8,"v":21.3},{"c":"b5","s":"CO₂","t":9,"v":21.2},{"c":"b5","s":"CO₂","t":10,"v":21.2},
{"c":"b5","s":"C₂-C₄ alkanes","t":1,"v":2},{"c":"b5","s":"C₂-C₄ alkanes","t":2,"v":1.8},{"c":"b5","s":"C₂-C₄ alkanes","t":3,"v":1.6},{"c":"b5","s":"C₂-C₄ alkanes","t":4,"v":1.4},{"c":"b5","s":"C₂-C₄ alkanes","t":5,"v":1.3},{"c":"b5","s":"C₂-C₄ alkanes","t":6,"v":1.2},{"c":"b5","s":"C₂-C₄ alkanes","t":7,"v":1.1},{"c":"b5","s":"C₂-C₄ alkanes","t":8,"v":1},{"c":"b5","s":"C₂-C₄ alkanes","t":9,"v":0.9},{"c":"b5","s":"C₂-C₄ alkanes","t":10,"v":0.8},
{"c":"b5","s":"Others","t":1,"v":4.5},{"c":"b5","s":"Others","t":2,"v":5},{"c":"b5","s":"Others","t":3,"v":5.5},{"c":"b5","s":"Others","t":4,"v":6},{"c":"b5","s":"Others","t":5,"v":6.5},{"c":"b5","s":"Others","t":6,"v":6.5},{"c":"b5","s":"Others","t":7,"v":6.3},{"c":"b5","s":"Others","t":8,"v":6.2},{"c":"b5","s":"Others","t":9,"v":6},{"c":"b5","s":"Others","t":10,"v":6}
]
},
"spacing": 16,
"vconcat": [
 {
  "width": 532, "height": 2,
  "data": {"values": [{}]},
  "view": {"stroke": null},
  "mark": {"type": "rule", "color": "#34508c", "strokeWidth": 2},
  "encoding": {"y": {"datum": 0.5, "type": "quantitative", "scale": {"domain": [0, 1]}, "axis": null}},
  "title": {"text": "化性能评价", "anchor": "start", "font": "Noto Sans CJK SC", "fontSize": 22, "fontWeight": "bold", "color": "#555555", "offset": 3, "dx": 4}
 },
 {
  "spacing": 9,
  "resolve": {"scale": {"color": "independent", "shape": "independent", "stroke": "independent"}},
  "hconcat": [
   {
    "data": {"name": "a"},
    "spacing": 0,
    "bounds": "flush",
    "facet": {"column": {"field": "c", "type": "nominal", "title": "TOS(h)", "header": {"labels": false, "titleOrient": "bottom", "titleFont": "Liberation Serif", "titleFontSize": 10, "titleFontWeight": "normal", "titleColor": "#333333", "titlePadding": -5}}},
    "spec": {
     "width": 58.5, "height": 195,
     "encoding": {
      "x": {"field": "t", "type": "quantitative", "scale": {"domain": [0.6, 10.5], "nice": false, "zero": false}, "axis": {"values": [1,2,3,4,5,6,7,8,9,10], "labelExpr": "datum.value % 2 == 0 ? datum.label : ''", "title": null, "labelFontSize": 8.5, "domain": false, "labelPadding": 1, "labelFlush": false, "labelOverlap": false}},
      "y": {"field": "v", "type": "quantitative", "scale": {"domain": [0, 71.3], "nice": false, "zero": false}, "axis": null}
     },
     "layer": [
      {"mark": {"type": "line", "strokeWidth": 1.3, "clip": true},
       "encoding": {"color": {"field": "s", "type": "nominal", "scale": {"domain": ["C₂H₄","C₃H₆","Iso-C₄H₈","CH₄","Acetone","CO₂","C₂-C₄ alkanes","Others"], "range": ["#000000","#ff0000","#0000ff","#ff00ff","#008000","#000080","#8000ff","#800080"]},
        "legend": {"title": null, "orient": "none", "legendX": 7, "legendY": -28, "direction": "horizontal", "columns": 4, "gridAlign": "none", "symbolSize": 30, "symbolOffset": 3, "labelOffset": 6.5, "labelFontSize": 10, "labelFont": "Liberation Serif", "labelColor": "#222222", "columnPadding": 1, "rowPadding": 4, "symbolStrokeWidth": 1.2, "symbolOpacity": 1}}}},
      {"mark": {"type": "point", "filled": true, "size": 22, "opacity": 1, "clip": true},
       "encoding": {"color": {"field": "s", "type": "nominal", "scale": {"domain": ["C₂H₄","C₃H₆","Iso-C₄H₈","CH₄","Acetone","CO₂","C₂-C₄ alkanes","Others"], "range": ["#000000","#ff0000","#0000ff","#ff00ff","#008000","#000080","#8000ff","#800080"]},
        "legend": {"title": null, "orient": "none", "legendX": 7, "legendY": -28, "direction": "horizontal", "columns": 4, "gridAlign": "none", "symbolSize": 30, "symbolOffset": 3, "labelOffset": 6.5, "labelFontSize": 10, "labelFont": "Liberation Serif", "labelColor": "#222222", "columnPadding": 1, "rowPadding": 4, "symbolStrokeWidth": 1.2, "symbolOpacity": 1}},
        "shape": {"field": "s", "type": "nominal", "scale": {"domain": ["C₂H₄","C₃H₆","Iso-C₄H₈","CH₄","Acetone","CO₂","C₂-C₄ alkanes","Others"], "range": ["M-3.5,0H3.5M-0.8,-0.8H0.8V0.8H-0.8Z","M-3.5,0H3.5M-0.85,0A0.85,0.85,0,1,0,0.85,0A0.85,0.85,0,1,0,-0.85,0Z","M-3.5,0H3.5M0,-1L0.95,0.75H-0.95Z","M-3.5,0H3.5M0,1L0.95,-0.75H-0.95Z","M-3.5,0H3.5M0,-1L0.85,0L0,1L-0.85,0Z","M-3.5,0H3.5M-1,0L0.75,-0.95V0.95Z","M-3.5,0H3.5M1,0L-0.75,-0.95V0.95Z","M-3.5,0H3.5M-0.9,0L-0.45,-0.8H0.45L0.9,0L0.45,0.8H-0.45Z"]},
        "legend": {"title": null, "orient": "none", "legendX": 7, "legendY": -28, "direction": "horizontal", "columns": 4, "gridAlign": "none", "symbolSize": 30, "symbolOffset": 3, "labelOffset": 6.5, "labelFontSize": 10, "labelFont": "Liberation Serif", "labelColor": "#222222", "columnPadding": 1, "rowPadding": 4, "symbolStrokeWidth": 1.2, "symbolOpacity": 1}}}},
      {"transform": [{"filter": "false"}],
       "mark": {"type": "point", "filled": true, "opacity": 1, "strokeWidth": 1.2},
       "encoding": {"color": {"field": "s", "type": "nominal", "scale": {"domain": ["C₂H₄","C₃H₆","Iso-C₄H₈","CH₄","Acetone","CO₂","C₂-C₄ alkanes","Others"], "range": ["#000000","#ff0000","#0000ff","#ff00ff","#008000","#000080","#8000ff","#800080"]},
        "legend": {"title": null, "orient": "none", "legendX": 7, "legendY": -28, "direction": "horizontal", "columns": 4, "gridAlign": "none", "symbolSize": 30, "symbolOffset": 3, "labelOffset": 6.5, "labelFontSize": 10, "labelFont": "Liberation Serif", "labelColor": "#222222", "columnPadding": 1, "rowPadding": 4, "symbolStrokeWidth": 1.2, "symbolOpacity": 1}},
        "stroke": {"field": "s", "type": "nominal", "scale": {"domain": ["C₂H₄","C₃H₆","Iso-C₄H₈","CH₄","Acetone","CO₂","C₂-C₄ alkanes","Others"], "range": ["#000000","#ff0000","#0000ff","#ff00ff","#008000","#000080","#8000ff","#800080"]},
        "legend": {"title": null, "orient": "none", "legendX": 7, "legendY": -28, "direction": "horizontal", "columns": 4, "gridAlign": "none", "symbolSize": 30, "symbolOffset": 3, "labelOffset": 6.5, "labelFontSize": 10, "labelFont": "Liberation Serif", "labelColor": "#222222", "columnPadding": 1, "rowPadding": 4, "symbolStrokeWidth": 1.2, "symbolOpacity": 1}},
        "shape": {"field": "s", "type": "nominal", "scale": {"domain": ["C₂H₄","C₃H₆","Iso-C₄H₈","CH₄","Acetone","CO₂","C₂-C₄ alkanes","Others"], "range": ["M-3.5,0H3.5M-0.8,-0.8H0.8V0.8H-0.8Z","M-3.5,0H3.5M-0.85,0A0.85,0.85,0,1,0,0.85,0A0.85,0.85,0,1,0,-0.85,0Z","M-3.5,0H3.5M0,-1L0.95,0.75H-0.95Z","M-3.5,0H3.5M0,1L0.95,-0.75H-0.95Z","M-3.5,0H3.5M0,-1L0.85,0L0,1L-0.85,0Z","M-3.5,0H3.5M-1,0L0.75,-0.95V0.95Z","M-3.5,0H3.5M1,0L-0.75,-0.95V0.95Z","M-3.5,0H3.5M-0.9,0L-0.45,-0.8H0.45L0.9,0L0.45,0.8H-0.45Z"]},
        "legend": {"title": null, "orient": "none", "legendX": 7, "legendY": -28, "direction": "horizontal", "columns": 4, "gridAlign": "none", "symbolSize": 30, "symbolOffset": 3, "labelOffset": 6.5, "labelFontSize": 10, "labelFont": "Liberation Serif", "labelColor": "#222222", "columnPadding": 1, "rowPadding": 4, "symbolStrokeWidth": 1.2, "symbolOpacity": 1}}}},
      {"transform": [{"filter": "datum.t == 1 && datum.s == 'Others'"}],
       "mark": {"type": "text", "font": "Liberation Serif", "fontSize": 8, "color": "#333333", "align": "center", "baseline": "middle"},
       "encoding": {"text": {"condition": [{"test": "datum.c == 'a1'", "value": "CeO₂"}, {"test": "datum.c == 'a2'", "value": "Zn₁Ce₉O₂"}, {"test": "datum.c == 'a3'", "value": "Zn₁Ce₂.₃O₂"}], "value": "Zn₁Ce₄O₂"}, "x": {"datum": 5.55}, "y": {"datum": 59.6}}}
     ]
    }
   },
   {
    "spacing": 0,
    "resolve": {"scale": {"color": "independent", "shape": "independent", "stroke": "independent"}},
    "hconcat": [
     {
      "data": {"name": "b"},
      "spacing": 0,
      "bounds": "flush",
      "title": {"text": "(b)", "anchor": "start", "fontSize": 15, "font": "Liberation Serif", "fontWeight": "normal", "color": "#222222", "offset": 0, "dy": 21, "dx": -3},
      "facet": {"column": {"field": "c", "type": "nominal", "title": "TOS(h)", "header": {"labels": false, "titleOrient": "bottom", "titleFont": "Liberation Serif", "titleFontSize": 10, "titleFontWeight": "normal", "titleColor": "#333333", "titlePadding": -9}}},
      "spec": {
       "width": 45.4, "height": 200,
       "encoding": {
        "x": {"field": "t", "type": "quantitative", "scale": {"domain": [0.7, 10.3], "nice": false, "zero": false}, "axis": {"values": [1,2,3,4,5,6,7,8,9,10], "labelExpr": "datum.value % 2 == 0 ? datum.label : ''", "title": null, "labelFontSize": 8, "domain": false, "labelPadding": 1, "labelFlush": false, "labelOverlap": false}},
        "y": {"field": "v", "type": "quantitative", "scale": {"domain": [-2.2, 70.7], "nice": false, "zero": false}, "axis": {"values": [0,5,10,15,20,25,30,35,40,45,50,55,60,65,70], "labelExpr": "datum.value % 10 == 0 ? datum.label : ''", "title": "Yield(%)", "titleFontSize": 9, "labelFontSize": 7.5, "titlePadding": 3, "labelPadding": 2, "domain": false}}
       },
       "layer": [
        {"mark": {"type": "line", "strokeWidth": 1.2, "clip": true},
         "encoding": {"color": {"field": "s", "type": "nominal", "scale": {"domain": ["C₂H₄","C₃H₆","Iso-C₄H₈","CH₄","Acetone","CO₂","C₂-C₄ alkanes","Others"], "range": ["#000000","#ff0000","#0000ff","#ff00ff","#008000","#000080","#8000ff","#800080"]},
          "legend": {"title": null, "orient": "none", "legendX": 4, "legendY": -28, "direction": "horizontal", "columns": 4, "gridAlign": "none", "symbolSize": 25, "symbolOffset": 3, "labelOffset": 6, "labelFontSize": 9, "labelFont": "Liberation Serif", "labelColor": "#222222", "columnPadding": 1, "rowPadding": 4, "symbolStrokeWidth": 1.1, "symbolOpacity": 1}}}},
        {"mark": {"type": "point", "filled": true, "size": 17, "opacity": 1, "clip": true},
         "encoding": {"color": {"field": "s", "type": "nominal", "scale": {"domain": ["C₂H₄","C₃H₆","Iso-C₄H₈","CH₄","Acetone","CO₂","C₂-C₄ alkanes","Others"], "range": ["#000000","#ff0000","#0000ff","#ff00ff","#008000","#000080","#8000ff","#800080"]},
          "legend": {"title": null, "orient": "none", "legendX": 4, "legendY": -28, "direction": "horizontal", "columns": 4, "gridAlign": "none", "symbolSize": 25, "symbolOffset": 3, "labelOffset": 6, "labelFontSize": 9, "labelFont": "Liberation Serif", "labelColor": "#222222", "columnPadding": 1, "rowPadding": 4, "symbolStrokeWidth": 1.1, "symbolOpacity": 1}},
          "shape": {"field": "s", "type": "nominal", "scale": {"domain": ["C₂H₄","C₃H₆","Iso-C₄H₈","CH₄","Acetone","CO₂","C₂-C₄ alkanes","Others"], "range": ["M-3.5,0H3.5M-0.8,-0.8H0.8V0.8H-0.8Z","M-3.5,0H3.5M-0.85,0A0.85,0.85,0,1,0,0.85,0A0.85,0.85,0,1,0,-0.85,0Z","M-3.5,0H3.5M0,-1L0.95,0.75H-0.95Z","M-3.5,0H3.5M0,1L0.95,-0.75H-0.95Z","M-3.5,0H3.5M0,-1L0.85,0L0,1L-0.85,0Z","M-3.5,0H3.5M-1,0L0.75,-0.95V0.95Z","M-3.5,0H3.5M1,0L-0.75,-0.95V0.95Z","M-3.5,0H3.5M-0.9,0L-0.45,-0.8H0.45L0.9,0L0.45,0.8H-0.45Z"]},
          "legend": {"title": null, "orient": "none", "legendX": 4, "legendY": -28, "direction": "horizontal", "columns": 4, "gridAlign": "none", "symbolSize": 25, "symbolOffset": 3, "labelOffset": 6, "labelFontSize": 9, "labelFont": "Liberation Serif", "labelColor": "#222222", "columnPadding": 1, "rowPadding": 4, "symbolStrokeWidth": 1.1, "symbolOpacity": 1}}}},
        {"transform": [{"filter": "false"}],
         "mark": {"type": "point", "filled": true, "opacity": 1, "strokeWidth": 1.1},
         "encoding": {"color": {"field": "s", "type": "nominal", "scale": {"domain": ["C₂H₄","C₃H₆","Iso-C₄H₈","CH₄","Acetone","CO₂","C₂-C₄ alkanes","Others"], "range": ["#000000","#ff0000","#0000ff","#ff00ff","#008000","#000080","#8000ff","#800080"]},
          "legend": {"title": null, "orient": "none", "legendX": 4, "legendY": -28, "direction": "horizontal", "columns": 4, "gridAlign": "none", "symbolSize": 25, "symbolOffset": 3, "labelOffset": 6, "labelFontSize": 9, "labelFont": "Liberation Serif", "labelColor": "#222222", "columnPadding": 1, "rowPadding": 4, "symbolStrokeWidth": 1.1, "symbolOpacity": 1}},
          "stroke": {"field": "s", "type": "nominal", "scale": {"domain": ["C₂H₄","C₃H₆","Iso-C₄H₈","CH₄","Acetone","CO₂","C₂-C₄ alkanes","Others"], "range": ["#000000","#ff0000","#0000ff","#ff00ff","#008000","#000080","#8000ff","#800080"]},
          "legend": {"title": null, "orient": "none", "legendX": 4, "legendY": -28, "direction": "horizontal", "columns": 4, "gridAlign": "none", "symbolSize": 25, "symbolOffset": 3, "labelOffset": 6, "labelFontSize": 9, "labelFont": "Liberation Serif", "labelColor": "#222222", "columnPadding": 1, "rowPadding": 4, "symbolStrokeWidth": 1.1, "symbolOpacity": 1}},
          "shape": {"field": "s", "type": "nominal", "scale": {"domain": ["C₂H₄","C₃H₆","Iso-C₄H₈","CH₄","Acetone","CO₂","C₂-C₄ alkanes","Others"], "range": ["M-3.5,0H3.5M-0.8,-0.8H0.8V0.8H-0.8Z","M-3.5,0H3.5M-0.85,0A0.85,0.85,0,1,0,0.85,0A0.85,0.85,0,1,0,-0.85,0Z","M-3.5,0H3.5M0,-1L0.95,0.75H-0.95Z","M-3.5,0H3.5M0,1L0.95,-0.75H-0.95Z","M-3.5,0H3.5M0,-1L0.85,0L0,1L-0.85,0Z","M-3.5,0H3.5M-1,0L0.75,-0.95V0.95Z","M-3.5,0H3.5M1,0L-0.75,-0.95V0.95Z","M-3.5,0H3.5M-0.9,0L-0.45,-0.8H0.45L0.9,0L0.45,0.8H-0.45Z"]},
          "legend": {"title": null, "orient": "none", "legendX": 4, "legendY": -28, "direction": "horizontal", "columns": 4, "gridAlign": "none", "symbolSize": 25, "symbolOffset": 3, "labelOffset": 6, "labelFontSize": 9, "labelFont": "Liberation Serif", "labelColor": "#222222", "columnPadding": 1, "rowPadding": 4, "symbolStrokeWidth": 1.1, "symbolOpacity": 1}}}},
        {"transform": [{"filter": "datum.t == 1 && datum.s == 'Others'"}],
         "mark": {"type": "text", "font": "Liberation Serif", "fontSize": 6.5, "color": "#333333", "align": "left", "baseline": "middle", "lineBreak": "\n", "lineHeight": 9},
         "encoding": {"text": {"condition": [{"test": "datum.c == 'b1'", "value": "Zn₁Ce₉O₂"}, {"test": "datum.c == 'b2'", "value": "HBeta-18-\nZn₁Ce₉O₂(1:10)"}, {"test": "datum.c == 'b3'", "value": "HBeta-43-\nZn₁Ce₉O₂(1:10)"}, {"test": "datum.c == 'b4'", "value": "HBeta-128-\nZn₁Ce₉O₂(1:10)"}], "value": "HBeta-216-\nZn₁Ce₉O₂(1:10)"}, "x": {"datum": 1.5}, "y": {"datum": 63.8}}}
       ]
      }
     },
     {
      "data": {"name": "b"},
      "transform": [{"filter": "datum.c == 'b1'"}],
      "width": 6, "height": 207,
      "view": {"stroke": null},
      "title": {"text": "(c)", "anchor": "start", "fontSize": 15, "font": "Liberation Serif", "fontWeight": "normal", "color": "#222222", "offset": 5, "dx": 17},
      "encoding": {
       "x": {"field": "t", "type": "quantitative", "scale": {"domain": [0.7, 2.0], "nice": false, "zero": false}, "axis": null},
       "y": {"field": "v", "type": "quantitative", "scale": {"domain": [-2.2, 70.35], "nice": false, "zero": false}, "axis": {"values": [0,5,10,15,20,25,30,35,40,45,50,55,60,65,70], "labelExpr": "datum.value % 10 == 0 ? datum.label : ''", "title": "Yield(%)", "titleFontSize": 9, "labelFontSize": 7.5, "titlePadding": 3, "labelPadding": 2, "domain": true}}
      },
      "layer": [
       {"mark": {"type": "line", "strokeWidth": 1.2, "clip": true},
        "encoding": {"color": {"field": "s", "type": "nominal", "scale": {"domain": ["C₂H₄","C₃H₆","Iso-C₄H₈","CH₄","Acetone","CO₂","C₂-C₄ alkanes","Others"], "range": ["#000000","#ff0000","#0000ff","#ff00ff","#008000","#000080","#8000ff","#800080"]}, "legend": null}}},
       {"mark": {"type": "point", "filled": true, "size": 17, "opacity": 1, "clip": true},
        "encoding": {"color": {"field": "s", "type": "nominal", "scale": {"domain": ["C₂H₄","C₃H₆","Iso-C₄H₈","CH₄","Acetone","CO₂","C₂-C₄ alkanes","Others"], "range": ["#000000","#ff0000","#0000ff","#ff00ff","#008000","#000080","#8000ff","#800080"]}, "legend": null},
         "shape": {"field": "s", "type": "nominal", "scale": {"domain": ["C₂H₄","C₃H₆","Iso-C₄H₈","CH₄","Acetone","CO₂","C₂-C₄ alkanes","Others"], "range": ["M-0.8,-0.8H0.8V0.8H-0.8Z","M-0.85,0A0.85,0.85,0,1,0,0.85,0A0.85,0.85,0,1,0,-0.85,0Z","M0,-1L0.95,0.75H-0.95Z","M0,1L0.95,-0.75H-0.95Z","M0,-1L0.85,0L0,1L-0.85,0Z","M-1,0L0.75,-0.95V0.95Z","M1,0L-0.75,-0.95V0.95Z","M-0.9,0L-0.45,-0.8H0.45L0.9,0L0.45,0.8H-0.45Z"]}, "legend": null}}}
      ]
     }
    ]
   }
  ]
 },
 {
  "width": 532, "height": 2,
  "data": {"values": [{}]},
  "view": {"stroke": null},
  "mark": {"type": "rule", "color": "#34508c", "strokeWidth": 2},
  "encoding": {"y": {"datum": 0.5, "type": "quantitative", "scale": {"domain": [0, 1]}, "axis": null}}
 }
]
}
